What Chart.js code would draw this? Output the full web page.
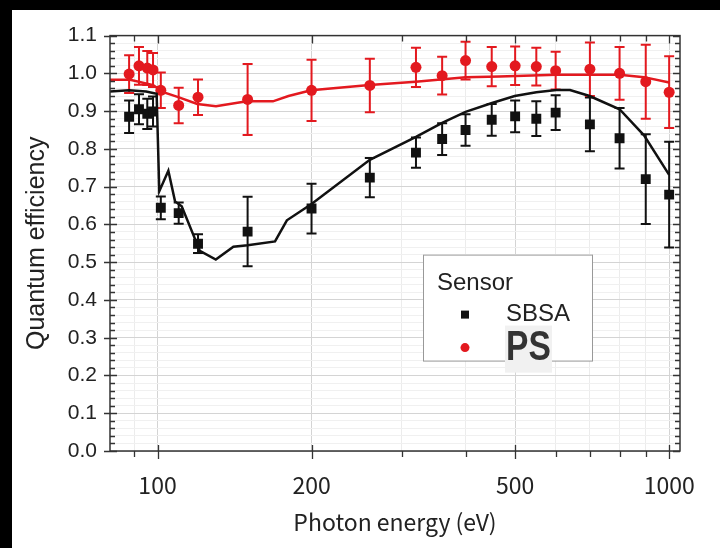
<!DOCTYPE html>
<html>
<head>
<meta charset="utf-8">
<script src="https://cdn.jsdelivr.net/npm/chart.js@4.4.1/dist/chart.umd.min.js"></script>
<style>
  html, body { margin: 0; padding: 0; background: #000; width: 720px; height: 548px; overflow: hidden; }
  #wrap { position: absolute; left: 12px; top: 10px; width: 708px; height: 538px; background: #fff; }
</style>
</head>
<body>
<div id="wrap"><canvas id="qeChart" width="708" height="538"></canvas></div>
<script>
// measured points (photon energy in eV)
var energies = [88, 92, 95.5, 98, 101.5, 110, 120, 150, 200, 260, 320, 360, 400, 450, 500, 550, 600, 700, 800, 900, 1000];
var sbsaQE  = [0.885, 0.905, 0.893, 0.899, 0.644, 0.630, 0.549, 0.581, 0.642, 0.724, 0.790, 0.826, 0.850, 0.877, 0.886, 0.880, 0.896, 0.865, 0.828, 0.720, 0.679];
var sbsaErr = [0.043, 0.040, 0.040, 0.040, 0.030, 0.028, 0.025, 0.092, 0.066, 0.052, 0.040, 0.042, 0.042, 0.042, 0.042, 0.046, 0.046, 0.071, 0.080, 0.119, 0.140];
var psQE    = [0.998, 1.020, 1.014, 1.009, 0.955, 0.915, 0.937, 0.931, 0.955, 0.968, 1.016, 0.994, 1.034, 1.018, 1.020, 1.018, 1.007, 1.011, 1.000, 0.978, 0.950];
var psErr   = [0.050, 0.050, 0.045, 0.045, 0.047, 0.047, 0.047, 0.094, 0.081, 0.071, 0.052, 0.050, 0.050, 0.052, 0.051, 0.050, 0.050, 0.071, 0.070, 0.098, 0.095];

// model curves
var sbsaModelE  = [80.75, 88, 95, 99.6, 100.8, 105, 108.2, 111.5, 121, 130, 140.7, 150, 169.7, 179, 200, 260, 320, 360, 400, 449, 499, 550, 602, 640, 699, 800, 893, 1000];
var sbsaModelQE = [0.952, 0.955, 0.952, 0.946, 0.688, 0.742, 0.661, 0.648, 0.530, 0.507, 0.541, 0.545, 0.555, 0.611, 0.654, 0.771, 0.832, 0.869, 0.898, 0.921, 0.940, 0.950, 0.956, 0.956, 0.940, 0.905, 0.836, 0.731];
var psModelE  = [80.75, 88.4, 98.1, 102.6, 109.8, 119.6, 130.1, 149.4, 168.1, 180.3, 199.6, 259.7, 319.6, 400, 466, 602, 800, 893, 1000];
var psModelQE = [0.983, 0.983, 0.969, 0.950, 0.937, 0.919, 0.913, 0.926, 0.926, 0.940, 0.955, 0.969, 0.978, 0.990, 0.992, 0.996, 0.996, 0.990, 0.976];

// axes
var xGridValues = [90, 100, 200, 300, 400, 500, 600, 700, 800, 900, 1000];
var xLabelValues = [100, 200, 500, 1000];
var xTickLabels = ["100", "200", "500", "1000"];
var yTickLabels = ["0.0", "0.1", "0.2", "0.3", "0.4", "0.5", "0.6", "0.7", "0.8", "0.9", "1.0", "1.1"];

var RED = "#e3191f";
var BLACK = "#111111";

function pts(xs, ys) {
  return xs.map(function (x, i) { return { x: x, y: ys[i] }; });
}

// error bars, frame, tick marks and the legend box
var decor = {
  id: "decor",
  beforeDatasetsDraw: function (chart) {
    var ctx = chart.ctx, xs = chart.scales.x, ys = chart.scales.y;
    var sets = [[sbsaQE, sbsaErr, BLACK], [psQE, psErr, RED]];
    ctx.save();
    ctx.lineWidth = 2;
    sets.forEach(function (s) {
      ctx.strokeStyle = s[2];
      energies.forEach(function (e, i) {
        var px = xs.getPixelForValue(e);
        var y1 = ys.getPixelForValue(s[0][i] + s[1][i]);
        var y2 = ys.getPixelForValue(s[0][i] - s[1][i]);
        ctx.beginPath();
        ctx.moveTo(px, y1); ctx.lineTo(px, y2);
        ctx.moveTo(px - 5, y1); ctx.lineTo(px + 5, y1);
        ctx.moveTo(px - 5, y2); ctx.lineTo(px + 5, y2);
        ctx.stroke();
      });
    });
    ctx.restore();
  },
  afterDraw: function (chart) {
    var ctx = chart.ctx, a = chart.chartArea, xs = chart.scales.x, ys = chart.scales.y;
    ctx.save();
    ctx.strokeStyle = "#333";
    ctx.lineWidth = 1.5;
    ctx.strokeRect(a.left, a.top, a.right - a.left, a.bottom - a.top);

    ctx.lineWidth = 1.3;
    ctx.beginPath();
    // y ticks
    for (var i = 0; i <= 55; i++) {
      var py = Math.round(ys.getPixelForValue(i * 0.02)) + 0.5;
      var major = i % 5 === 0;
      ctx.moveTo(a.left - (major ? 6 : 0), py); ctx.lineTo(a.left + (major ? 7 : 5), py);
      ctx.moveTo(a.right - (major ? 7 : 5), py); ctx.lineTo(a.right, py);
    }
    // x ticks
    xGridValues.forEach(function (v) {
      var px = Math.round(xs.getPixelForValue(v)) + 0.5;
      var major = xLabelValues.indexOf(v) >= 0;
      ctx.moveTo(px, a.bottom - (major ? 6 : 0)); ctx.lineTo(px, a.bottom + (major ? 8 : 6));
      ctx.moveTo(px, a.top); ctx.lineTo(px, a.top + (major ? 8 : 6));
    });
    ctx.stroke();

    // legend
    var lx = a.left + 313, ly = a.top + 219, lw = 169, lh = 106;
    ctx.fillStyle = "#fff";
    ctx.fillRect(lx, ly, lw, lh);
    ctx.strokeStyle = "#999";
    ctx.lineWidth = 1;
    ctx.strokeRect(lx + 0.5, ly + 0.5, lw, lh);

    ctx.textBaseline = "middle";
    ctx.textAlign = "left";
    ctx.fillStyle = "#222";
    ctx.font = "24px 'Liberation Sans', Arial, sans-serif";
    ctx.fillText("Sensor", lx + 14, ly + 29);
    ctx.fillText("SBSA", lx + 83, ly + 60);

    ctx.fillStyle = BLACK;
    ctx.fillRect(lx + 38, ly + 56, 8, 8);
    ctx.fillStyle = RED;
    ctx.beginPath();
    ctx.arc(lx + 42, ly + 93, 4.5, 0, Math.PI * 2);
    ctx.fill();

    ctx.fillStyle = "#f1f1f1";
    ctx.fillRect(lx + 82, ly + 71, 47, 47);
    ctx.fillStyle = "#333";
    ctx.font = "bold 42px 'Liberation Sans', Arial, sans-serif";
    ctx.translate(lx + 83, ly + 94);
    ctx.scale(0.8, 1);
    ctx.fillText("PS", 0, 0);
    ctx.restore();
  }
};

var data = {
  datasets: [
    {
      label: "SBSA model",
      type: "line",
      data: pts(sbsaModelE, sbsaModelQE),
      borderColor: BLACK,
      borderWidth: 2.5,
      pointRadius: 0,
      tension: 0,
      fill: false
    },
    {
      label: "PS model",
      type: "line",
      data: pts(psModelE, psModelQE),
      borderColor: RED,
      borderWidth: 2.5,
      pointRadius: 0,
      tension: 0,
      fill: false
    },
    {
      label: "SBSA",
      data: pts(energies, sbsaQE),
      pointStyle: "rect",
      pointRadius: 7,
      backgroundColor: BLACK,
      borderColor: BLACK,
      borderWidth: 0
    },
    {
      label: "PS",
      data: pts(energies, psQE),
      pointStyle: "circle",
      pointRadius: 5.5,
      backgroundColor: RED,
      borderColor: RED,
      borderWidth: 0
    }
  ]
};

var config = {
  type: "scatter",
  data: data,
  options: {
    responsive: false,
    animation: false,
    devicePixelRatio: 1,
    layout: { padding: { top: 23, right: 40, bottom: 0, left: 0 } },
    plugins: { legend: { display: false }, tooltip: { enabled: false } },
    scales: {
      x: {
        type: "logarithmic",
        min: 80.75,
        max: 1050,
        afterBuildTicks: function (s) {
          s.ticks = xGridValues.map(function (v) { return { value: v }; });
        },
        afterFit: function (s) { s.height = 97; },
        border: { display: false },
        grid: {
          drawTicks: false,
          color: function (c) {
            return c.tick && xLabelValues.indexOf(c.tick.value) >= 0 ? "#d4d4d4" : "#ececec";
          }
        },
        ticks: {
          autoSkip: false,
          maxRotation: 0,
          padding: 20,
          color: "#222",
          font: { family: "'Noto Sans CJK JP', 'Noto Sans', sans-serif", size: 23 },
          callback: function (v) {
            var k = xLabelValues.indexOf(v);
            return k >= 0 ? xTickLabels[k] : "";
          }
        },
        title: {
          display: true,
          text: "Photon energy (eV)",
          color: "#222",
          font: { family: "'Noto Sans CJK JP', 'Noto Sans', sans-serif", size: 23 },
          padding: { top: 0, bottom: 12 }
        }
      },
      y: {
        min: 0,
        max: 1.1,
        afterBuildTicks: function (s) {
          var t = [];
          for (var i = 0; i <= 55; i++) t.push({ value: Math.round(i * 2) / 100 });
          s.ticks = t;
        },
        afterFit: function (s) { s.width = 98; },
        border: { display: false },
        grid: {
          drawTicks: false,
          color: function (c) { return c.index % 5 === 0 ? "#d4d4d4" : "#f0f0f0"; }
        },
        ticks: {
          autoSkip: false,
          padding: 13,
          color: "#222",
          font: { family: "'Liberation Sans', Arial, sans-serif", size: 21 },
          callback: function (v, i) { return i % 5 === 0 ? yTickLabels[i / 5] : ""; }
        },
        title: {
          display: true,
          text: "Quantum efficiency",
          color: "#222",
          font: { family: "'Liberation Sans', Arial, sans-serif", size: 25 },
          padding: { top: 10, bottom: 0 }
        }
      }
    }
  },
  plugins: [decor]
};

var myChart = new Chart(document.getElementById("qeChart"), config);
</script>
</body>
</html>
